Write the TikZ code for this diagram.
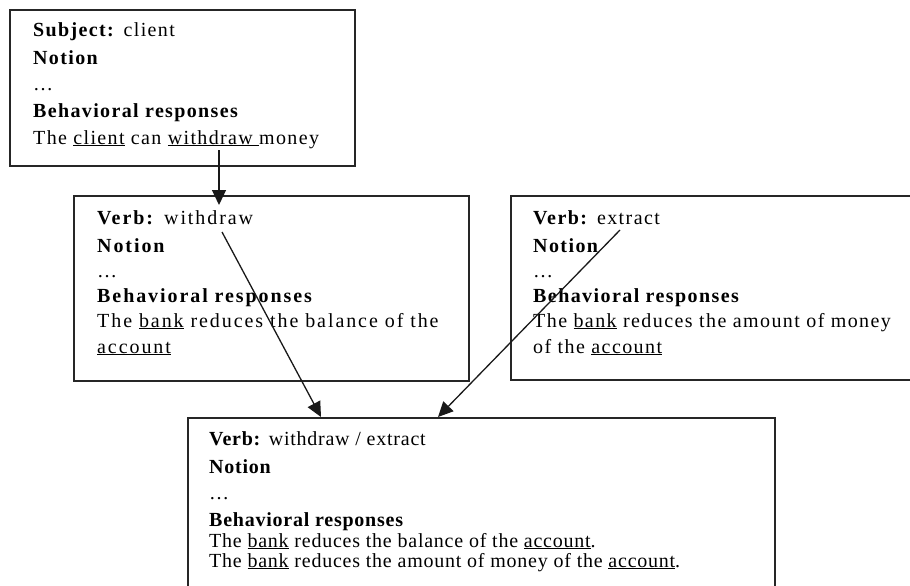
\documentclass[tikz,border=0pt]{standalone}
\usepackage{fontspec}
\setmainfont{Liberation Serif}
\newfontfamily\fnt{Liberation Serif}
\usetikzlibrary{arrows.meta}
\newcommand\ul[1]{\underline{#1}}
\newcommand\boxfont[1]{\fnt\fontsize{20}{24}\selectfont\addfontfeature{LetterSpace=#1}}
\begin{document}
\begin{tikzpicture}[x=1pt,y=-1pt,
  box/.style={draw=black!85, line width=1.6pt, rectangle, anchor=north west, inner sep=0pt},
  txt/.style={anchor=base west, inner sep=0pt},
  txtA/.style={txt, font=\boxfont{6.8}},
  txtB/.style={txt, font=\boxfont{9.6}},
  txtC/.style={txt, font=\boxfont{7.1}},
  txtD/.style={txt, font=\boxfont{3.8}},
  arr/.style={draw=black!90, line width=1.3pt, -{Triangle[length=15pt,width=14pt]}}]
\useasboundingbox (0,0) rectangle (910,586);
\clip (0,0) rectangle (910,586);
% boxes
\node[box, minimum width=345pt, minimum height=156pt] (subj) at (9,9) {};
\node[box, minimum width=395pt, minimum height=185pt] (verbw) at (73,195) {};
\node[box, minimum width=420pt, minimum height=184pt] (verbe) at (510,195) {};
\node[box, minimum width=587pt, minimum height=200pt] (verbm) at (187,417) {};
% box 1 text
\node[txtA] (s1) at (33,37) {\textbf{Subject:} client};
\node[txtA] (s2) at (33,64) {\textbf{Notion}};
\node[txtA] (s3) at (33,90) {…};
\node[txtA] (s4) at (33,117) {\textbf{Behavioral responses}};
\node[txtA] (s5) at (33,144) {The \ul{client} can \ul{withdraw\ }money};
% box 2 text
\node[txtB] (w1) at (97,224) {\textbf{Verb:} withdraw};
\node[txtB] (w2) at (97,252) {\textbf{Notion}};
\node[txtB] (w3) at (97,277) {…};
\node[txtB] (w4) at (97,302) {\textbf{Behavioral responses}};
\node[txtB] (w5) at (97,327) {The \ul{bank} reduces the balance of the};
\node[txtB] (w6) at (97,353) {\ul{account}};
% box 3 text
\node[txtC] (e1) at (533,224) {\textbf{Verb:} extract};
\node[txtC] (e2) at (533,252) {\textbf{Notion}};
\node[txtC] (e3) at (533,277) {…};
\node[txtC] (e4) at (533,302) {\textbf{Behavioral responses}};
\node[txtC] (e5) at (533,327) {The \ul{bank} reduces the amount of money};
\node[txtC] (e6) at (533,353) {of the \ul{account}};
% box 4 text
\node[txtD] (m1) at (209,445) {\textbf{Verb:} withdraw / extract};
\node[txtD] (m2) at (209,473) {\textbf{Notion}};
\node[txtD] (m3) at (209,499) {…};
\node[txtD] (m4) at (209,526) {\textbf{Behavioral responses}};
\node[txtD] (m5) at (209,547) {The \ul{bank} reduces the balance of the \ul{account}.};
\node[txtD] (m6) at (209,567) {The \ul{bank} reduces the amount of money of the \ul{account}.};
% connectors
\coordinate (c1) at (219,150);
\coordinate (c2) at (222,232);
\coordinate (c3) at (620,230);
\draw[arr] (c1) -- ([yshift=-10pt]c1 |- verbw.north);
\draw[arr] (c2) -- ([xshift=134pt]verbm.north west);
\draw[arr] (c3) -- ([xshift=251pt]verbm.north west);
\end{tikzpicture}
\end{document}
